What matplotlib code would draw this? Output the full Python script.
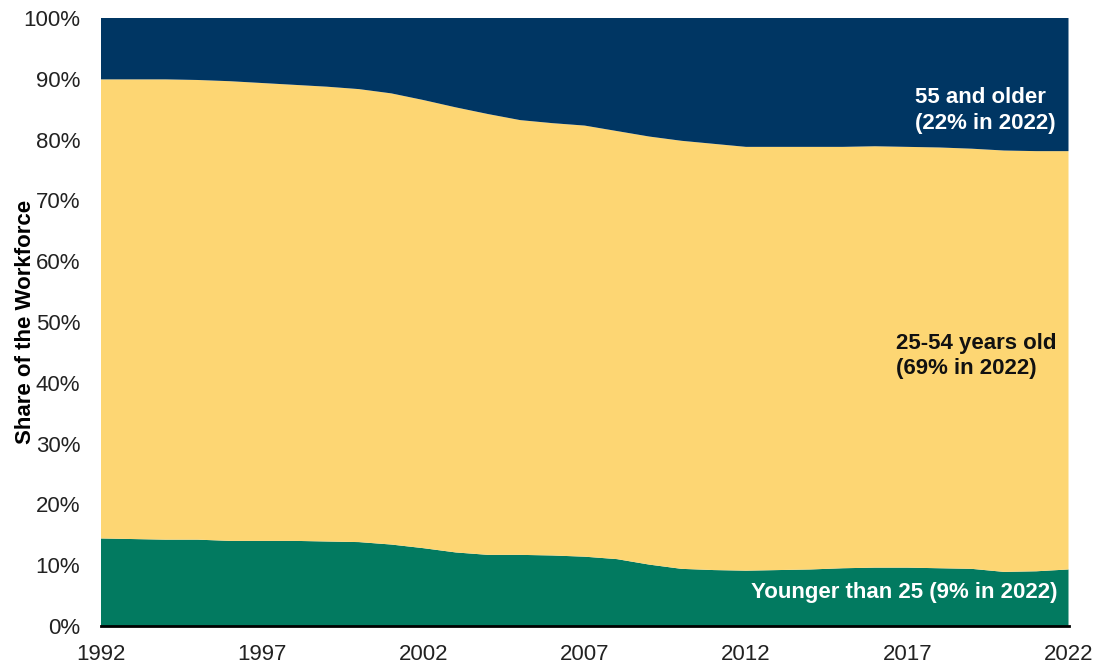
import numpy as np
import matplotlib
matplotlib.use("Agg")
import matplotlib.pyplot as plt
from matplotlib.ticker import PercentFormatter

plt.rcParams['font.family'] = ['Liberation Sans', 'DejaVu Sans']

years = list(range(1992, 2023))

# share of the workforce by age group, percent
younger_than_25 = [14.4, 14.3, 14.2, 14.2, 14.0, 14.0, 14.0, 13.9, 13.8, 13.4,
                   12.8, 12.1, 11.7, 11.7, 11.6, 11.4, 11.0, 10.1, 9.4, 9.2,
                   9.1, 9.2, 9.3, 9.5, 9.6, 9.6, 9.5, 9.4, 8.9, 9.0, 9.3]
age_25_54 = [75.5, 75.6, 75.7, 75.6, 75.6, 75.3, 75.0, 74.8, 74.5, 74.2,
             73.7, 73.2, 72.5, 71.5, 71.1, 70.9, 70.4, 70.4, 70.4, 70.1,
             69.7, 69.6, 69.5, 69.3, 69.3, 69.2, 69.2, 69.1, 69.3, 69.1, 68.8]
age_55_plus = [10.1, 10.1, 10.1, 10.2, 10.4, 10.7, 11.0, 11.3, 11.7, 12.4,
               13.5, 14.7, 15.8, 16.8, 17.3, 17.7, 18.6, 19.5, 20.2, 20.7,
               21.2, 21.2, 21.2, 21.2, 21.1, 21.2, 21.3, 21.5, 21.8, 21.9, 21.9]

colors = ['#027A60', '#FDD673', '#003663']

fig = plt.figure(figsize=(10.95, 6.63), dpi=100)
ax = fig.add_axes([0.0922, 0.0558, 0.8836, 0.9171])

ax.stackplot(years, younger_than_25, age_25_54, age_55_plus, colors=colors, linewidth=0)

ax.set_xlim(1992, 2022)
ax.set_ylim(0, 100)
ax.set_xticks(range(1992, 2023, 5))
ax.set_yticks(range(0, 101, 10))
ax.yaxis.set_major_formatter(PercentFormatter(decimals=0))
ax.tick_params(axis='both', length=0, labelsize=16, colors='#222222')
ax.tick_params(axis='x', pad=13)
ax.tick_params(axis='y', pad=15)

for s in ['top', 'right', 'left']:
    ax.spines[s].set_visible(False)
ax.spines['bottom'].set_color('black')
ax.spines['bottom'].set_linewidth(2)

ax.set_ylabel('Share of the Workforce', fontsize=16, fontweight='bold')
ax.yaxis.set_label_coords(-0.067, 0.5)

ax.text(2017.25, 84.8, '55 and older\n(22% in 2022)', color='white', fontsize=16,
        fontweight='bold', ha='left', va='center', linespacing=1.3)
ax.text(2016.65, 44.4, '25-54 years old\n(69% in 2022)', color='#111111', fontsize=16,
        fontweight='bold', ha='left', va='center', linespacing=1.3)
ax.text(2021.65, 5.5, 'Younger than 25 (9% in 2022)', color='white', fontsize=16,
        fontweight='bold', ha='right', va='center')

fig.savefig('out.png', dpi=100)
